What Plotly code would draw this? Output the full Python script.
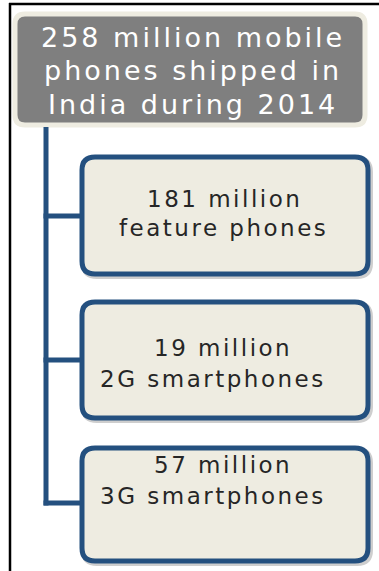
import plotly.graph_objects as go

# Shipment breakdown (millions of units)
year = 2014
total_shipped = 258
segments = ["feature phones", "2G smartphones", "3G smartphones"]
shipped = [181, 19, 57]

W, H = 379, 571
NAVY = "#24507f"
BEIGE = "#eeece1"
GREY = "#7f7f7f"
INK = "#262626"
FONT = "DejaVu Sans"

# layout of the tree (pixel coordinates, y grows downward)
root_box = dict(x0=15, x1=365, y0=14, y1=125, r=10)
child_x0, child_x1 = 82, 368
child_rows = [(157, 274), (302, 418), (448, 561)]
branch_y = [216, 360, 503]
trunk_x = 46


def rounded_rect(x0, y0, x1, y1, r):
    return (f"M {x0 + r},{y0} L {x1 - r},{y0} Q {x1},{y0} {x1},{y0 + r} "
            f"L {x1},{y1 - r} Q {x1},{y1} {x1 - r},{y1} "
            f"L {x0 + r},{y1} Q {x0},{y1} {x0},{y1 - r} "
            f"L {x0},{y0 + r} Q {x0},{y0} {x0 + r},{y0} Z")


def spaced(text, px):
    return f'<span style="letter-spacing:{px}px">{text}</span>'


shapes = []
annotations = []

# outer frame (top and left edges)
shapes.append(dict(type="line", x0=9, x1=W, y0=4, y1=4,
                   line=dict(color="black", width=2.5)))
shapes.append(dict(type="line", x0=10, x1=10, y0=3, y1=H,
                   line=dict(color="black", width=2.5)))

# root node
shapes.append(dict(type="path",
                   path=rounded_rect(root_box["x0"], root_box["y0"],
                                     root_box["x1"], root_box["y1"], root_box["r"]),
                   fillcolor=GREY, line=dict(color=BEIGE, width=5)))

root_lines = [f"{total_shipped} million mobile",
              "phones shipped in",
              f"India during {year}"]
for line, base in zip(root_lines, [48, 81.5, 115]):
    annotations.append(dict(x=193, y=base, text=spaced(line, 3), showarrow=False,
                            xanchor="center", yanchor="bottom", yshift=-7,
                            font=dict(family=FONT, size=27, color="white")))

# trunk and branches
shapes.append(dict(type="line", x0=trunk_x, x1=trunk_x,
                   y0=root_box["y1"] + 2, y1=branch_y[-1] + 2.5,
                   line=dict(color=NAVY, width=5)))
for by in branch_y:
    shapes.append(dict(type="line", x0=trunk_x - 2.5, x1=child_x0, y0=by, y1=by,
                       line=dict(color=NAVY, width=5)))

# child nodes with soft shadow
line_pos = [((224, 208), (223, 237)),
            ((223, 357), (213, 388)),
            ((223, 474), (213, 505))]
for (y0, y1), name, val, pos in zip(child_rows, segments, shipped, line_pos):
    shapes.append(dict(type="path",
                       path=rounded_rect(child_x0 + 2, y0 + 2, child_x1 + 2, y1 + 2, 13),
                       fillcolor="rgba(0,0,0,0)",
                       line=dict(color="rgba(60,60,60,0.25)", width=6)))
    shapes.append(dict(type="path",
                       path=rounded_rect(child_x0, y0, child_x1, y1, 13),
                       fillcolor=BEIGE, line=dict(color=NAVY, width=5)))
    for txt, (cx, base) in zip([f"{val} million", name], pos):
        annotations.append(dict(x=cx, y=base, text=spaced(txt, 2.5), showarrow=False,
                                xanchor="center", yanchor="bottom", yshift=-6,
                                font=dict(family=FONT, size=23, color=INK)))

fig = go.Figure()
fig.update_layout(
    width=W, height=H,
    margin=dict(l=0, r=0, t=0, b=0),
    paper_bgcolor="white", plot_bgcolor="white",
    xaxis=dict(range=[0, W], visible=False, fixedrange=True),
    yaxis=dict(range=[H, 0], visible=False, fixedrange=True),
    shapes=shapes, annotations=annotations,
    showlegend=False,
)

fig.write_html("out.html", config={"displayModeBar": False})
